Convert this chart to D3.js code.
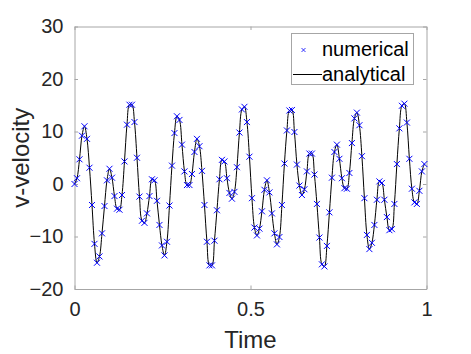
<!DOCTYPE html>
<html>
<head>
<meta charset="utf-8">
<script src="https://cdn.jsdelivr.net/npm/d3@7"></script>
<style>
  html, body { margin: 0; padding: 0; background: #fff; }
  svg { display: block; font-family: "Liberation Sans", Arial, sans-serif; }
</style>
</head>
<body>
<svg id="chart" width="471" height="354"></svg>
<script>
// sample spacing of the numerical solution (in time units)
var sampleStep = 0.0071;

// v-velocity at each sample
var velocity = [
  0.0, 1.1, 4.7, 9.2, 11.0, 8.6, 3.1, -4.0, -11.4, -15.0,
  -13.8, -9.4, -4.2, 0.7, 2.9, 1.2, -2.3, -4.7, -4.9, -2.1,
  4.3, 11.3, 15.1, 15.1, 11.8, 5.0, -2.4, -7.0, -7.4, -5.6,
  -2.3, 0.9, 0.7, -3.2, -7.8, -11.7, -13.6, -11.0, -4.1, 3.5,
  9.7, 12.9, 12.2, 7.5, 2.4, -0.2, -0.2, 1.9, 6.1, 8.6,
  7.2, 2.5, -4.0, -11.0, -15.5, -15.5, -10.8, -5.0, 0.9, 4.6,
  4.3, 1.1, -1.7, -2.8, -1.5, 3.2, 9.8, 14.2, 14.7, 11.8,
  5.2, -2.7, -8.3, -9.8, -8.5, -5.2, -1.1, 0.7, -1.6, -5.6,
  -9.4, -11.5, -10.1, -4.0, 3.9, 10.2, 14.0, 14.1, 9.9, 3.7,
  -0.3, -2.1, -1.0, 2.4, 5.8, 5.8, 1.8, -3.8, -10.2, -15.3,
  -15.7, -11.8, -5.4, 1.2, 6.1, 7.5, 4.8, 1.1, -0.8, -0.9,
  2.1, 7.8, 12.5, 13.6, 11.2, 5.3, -2.7, -9.7, -12.4, -11.2,
  -7.8, -3.0, 0.5, 0.2, -3.0, -6.3, -8.8, -8.6, -3.8, 3.8,
  10.6, 14.9, 15.3, 11.7, 4.8, -0.9, -3.5, -3.8, -1.3, 2.4,
  3.8
];

var xTicks = [0, 0.5, 1];
var yTicks = [-20, -10, 0, 10, 20, 30];
var seriesNames = ["numerical", "analytical"];

var aPoints = velocity.map(function (v, i) {
  return { t: i * sampleStep, v: v };
});

var oSvg = d3.select("#chart");
var oBox = { left: 74.5, right: 426.5, top: 26.5, bottom: 289 };

var oScaleX = d3.scaleLinear().domain([0, 1]).range([oBox.left, oBox.right]);
var oScaleY = d3.scaleLinear().domain([-20, 30]).range([oBox.bottom, oBox.top]);

var sAxisColor = "#a6a6a6";
var sTextColor = "#262626";

// axes box with inward ticks on all four sides (matlab style)
var oAxes = oSvg.append("g");

oAxes.append("g")
  .attr("transform", "translate(0," + oBox.bottom + ")")
  .call(d3.axisBottom(oScaleX).tickValues(xTicks).tickSizeInner(-3.5).tickSizeOuter(0)
    .tickFormat(d3.format("")).tickPadding(13));

oAxes.append("g")
  .attr("transform", "translate(0," + oBox.top + ")")
  .call(d3.axisTop(oScaleX).tickValues(xTicks).tickSizeInner(-3.5).tickSizeOuter(0)
    .tickFormat(""));

oAxes.append("g")
  .attr("transform", "translate(" + oBox.left + ",0)")
  .call(d3.axisLeft(oScaleY).tickValues(yTicks).tickSizeInner(-3.5).tickSizeOuter(0)
    .tickPadding(11));

oAxes.append("g")
  .attr("transform", "translate(" + oBox.right + ",0)")
  .call(d3.axisRight(oScaleY).tickValues(yTicks).tickSizeInner(-3.5).tickSizeOuter(0)
    .tickFormat(""));

oAxes.selectAll(".domain").attr("stroke", sAxisColor);
oAxes.selectAll(".tick line").attr("stroke", sAxisColor);
oAxes.selectAll(".tick text")
  .attr("fill", sTextColor)
  .style("font-size", "20px");

// analytical curve
var fLine = d3.line()
  .x(function (d) { return oScaleX(d.t); })
  .y(function (d) { return oScaleY(d.v); })
  .curve(d3.curveCatmullRom.alpha(0.5));

oSvg.append("path")
  .datum(aPoints)
  .attr("fill", "none")
  .attr("stroke", "#000")
  .attr("stroke-width", 1)
  .attr("d", fLine);

// numerical markers
var iMark = 3;
oSvg.append("g")
  .selectAll("path")
  .data(aPoints)
  .enter().append("path")
  .attr("transform", function (d) {
    return "translate(" + oScaleX(d.t) + "," + oScaleY(d.v) + ")";
  })
  .attr("d", "M" + (-iMark) + "," + (-iMark) + "L" + iMark + "," + iMark +
    "M" + (-iMark) + "," + iMark + "L" + iMark + "," + (-iMark))
  .attr("stroke", "#0000ff")
  .attr("stroke-width", 1)
  .attr("fill", "none");

// axis labels
oSvg.append("text")
  .attr("x", (oBox.left + oBox.right) / 2)
  .attr("y", 348)
  .attr("text-anchor", "middle")
  .attr("fill", sTextColor)
  .style("font-size", "24px")
  .text("Time");

oSvg.append("text")
  .attr("transform", "translate(29," + ((oBox.top + oBox.bottom) / 2) + ") rotate(-90)")
  .attr("text-anchor", "middle")
  .attr("fill", sTextColor)
  .style("font-size", "24px")
  .text("v-velocity");

// legend
var oLegend = oSvg.append("g");
oLegend.append("rect")
  .attr("x", 291.5).attr("y", 33.5)
  .attr("width", 122).attr("height", 51)
  .attr("fill", "#fff")
  .attr("stroke", sAxisColor);

oLegend.append("path")
  .attr("transform", "translate(303.5,50)")
  .attr("d", "M-2,-2L2,2M-2,2L2,-2")
  .attr("stroke", "#0000ff")
  .attr("stroke-width", 0.8);

oLegend.append("line")
  .attr("x1", 293).attr("x2", 322)
  .attr("y1", 74.5).attr("y2", 74.5)
  .attr("stroke", "#000").attr("stroke-width", 1);

oLegend.selectAll("text")
  .data(seriesNames)
  .enter().append("text")
  .attr("x", 322)
  .attr("y", function (d, i) { return 56 + i * 25; })
  .attr("fill", "#000")
  .style("font-size", "20px")
  .text(function (d) { return d; });
</script>
</body>
</html>
